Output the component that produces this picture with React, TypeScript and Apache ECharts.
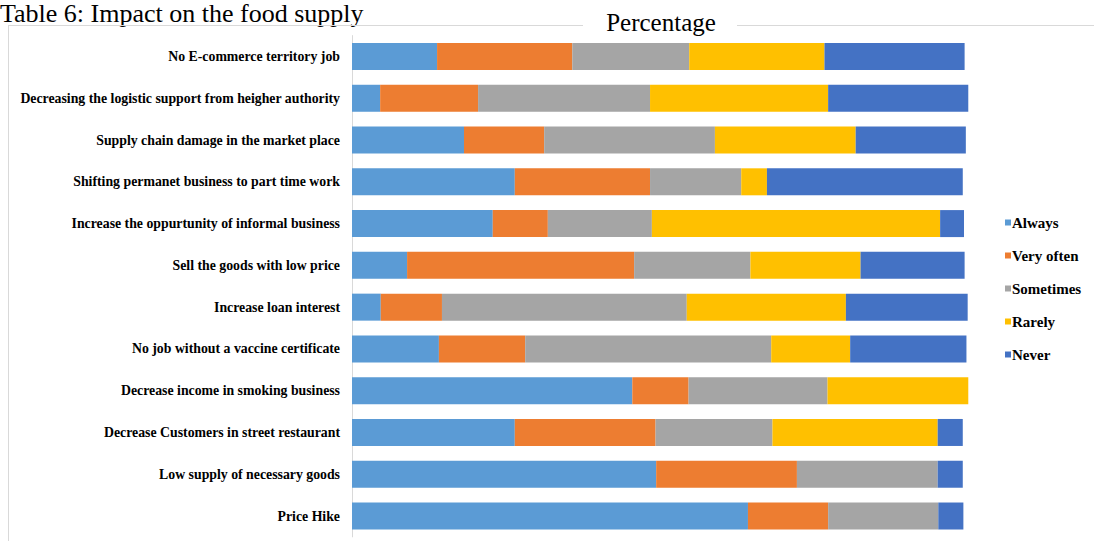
import React, { useEffect, useRef } from "react";
import * as echarts from "echarts";

// Survey responses per statement (percent of respondents)
const categories = [
  "No E-commerce territory job",
  "Decreasing the logistic support from heigher authority",
  "Supply chain damage in the market place",
  "Shifting permanet business to part time work",
  "Increase the oppurtunity of informal business",
  "Sell the goods with low price",
  "Increase loan interest",
  "No job without a vaccine certificate",
  "Decrease income in smoking business",
  "Decrease Customers in street restaurant",
  "Low supply of necessary goods",
  "Price Hike",
];

const always = [13.9, 4.6, 18.3, 26.6, 23.0, 9.0, 4.7, 14.2, 45.8, 26.6, 49.7, 64.7];
const veryOften = [22.1, 16.0, 13.1, 22.1, 9.0, 37.1, 10.0, 14.1, 9.2, 23.0, 23.0, 13.1];
const sometimes = [19.1, 28.1, 27.9, 14.9, 17.0, 19.0, 40.0, 40.2, 22.7, 19.1, 23.0, 18.0];
const rarely = [22.1, 29.1, 23.0, 4.2, 47.1, 18.0, 26.0, 12.9, 23.0, 27.0, 0, 0];
const never = [22.9, 22.9, 18.0, 32.0, 3.9, 17.0, 19.9, 19.0, 0, 4.1, 4.1, 4.1];

const seriesNames = ["Always", "Very often", "Sometimes", "Rarely", "Never"];
const seriesData = [always, veryOften, sometimes, rarely, never];
const seriesColors = ["#5B9BD5", "#ED7D31", "#A5A5A5", "#FFC000", "#4472C4"];

const SERIF = "'Liberation Serif', 'Times New Roman', serif";

export default function App() {
  const ref = useRef<HTMLDivElement>(null);

  useEffect(() => {
    if (!ref.current) return;
    const chart = echarts.init(ref.current, undefined, { renderer: "svg" });

    const option = {
      animation: false,
      backgroundColor: "#ffffff",
      grid: {
        left: 352,
        top: 35.6,
        width: 624.24,
        height: 501.3,
        containLabel: false,
      },
      legend: {
        orient: "vertical",
        left: 1000,
        top: 210,
        itemWidth: 6,
        itemHeight: 6,
        itemGap: 18,
        icon: "rect",
        data: seriesNames,
        textStyle: {
          fontFamily: SERIF,
          fontWeight: "bold",
          fontSize: 15,
          color: "#000",
          padding: [0, 0, 0, -4],
        },
      },
      xAxis: {
        type: "value",
        min: 0,
        max: 102,
        show: false,
        splitLine: { show: false },
      },
      yAxis: {
        type: "category",
        data: categories,
        inverse: true,
        axisTick: { show: false },
        axisLine: { show: true, lineStyle: { color: "#d9d9d9", width: 1 } },
        axisLabel: {
          fontFamily: SERIF,
          fontWeight: "bold",
          fontSize: 13.8,
          color: "#000",
          margin: 12,
        },
      },
      series: seriesNames.map((name, i) => ({
        name,
        type: "bar",
        stack: "total",
        barWidth: 27,
        data: seriesData[i],
        itemStyle: { color: seriesColors[i] },
        emphasis: { disabled: true },
      })),
      graphic: [
        {
          type: "text",
          style: {
            x: 0,
            y: 0,
            text: "Table 6: Impact on the food supply",
            font: `26px ${SERIF}`,
            fill: "#000",
            verticalAlign: "top",
          },
          silent: true,
        },
        {
          type: "line",
          shape: { x1: 8, y1: 25.5, x2: 583, y2: 25.5 },
          style: { stroke: "#d9d9d9", lineWidth: 1 },
          silent: true,
        },
        {
          type: "line",
          shape: { x1: 737, y1: 25.5, x2: 1094, y2: 25.5 },
          style: { stroke: "#d9d9d9", lineWidth: 1 },
          silent: true,
        },
        {
          type: "line",
          shape: { x1: 8.5, y1: 25, x2: 8.5, y2: 541 },
          style: { stroke: "#d9d9d9", lineWidth: 1 },
          silent: true,
        },
        {
          type: "text",
          style: {
            x: 661,
            y: 22,
            text: "Percentage",
            font: `25px ${SERIF}`,
            fill: "#000",
            align: "center",
            verticalAlign: "middle",
          },
          silent: true,
        },
      ],
    };

    chart.setOption(option as any);
    return () => {
      chart.dispose();
    };
  }, []);

  return (
    <div
      ref={ref}
      style={{ position: "absolute", left: 0, top: 0, width: 1094, height: 541 }}
    />
  );
}
